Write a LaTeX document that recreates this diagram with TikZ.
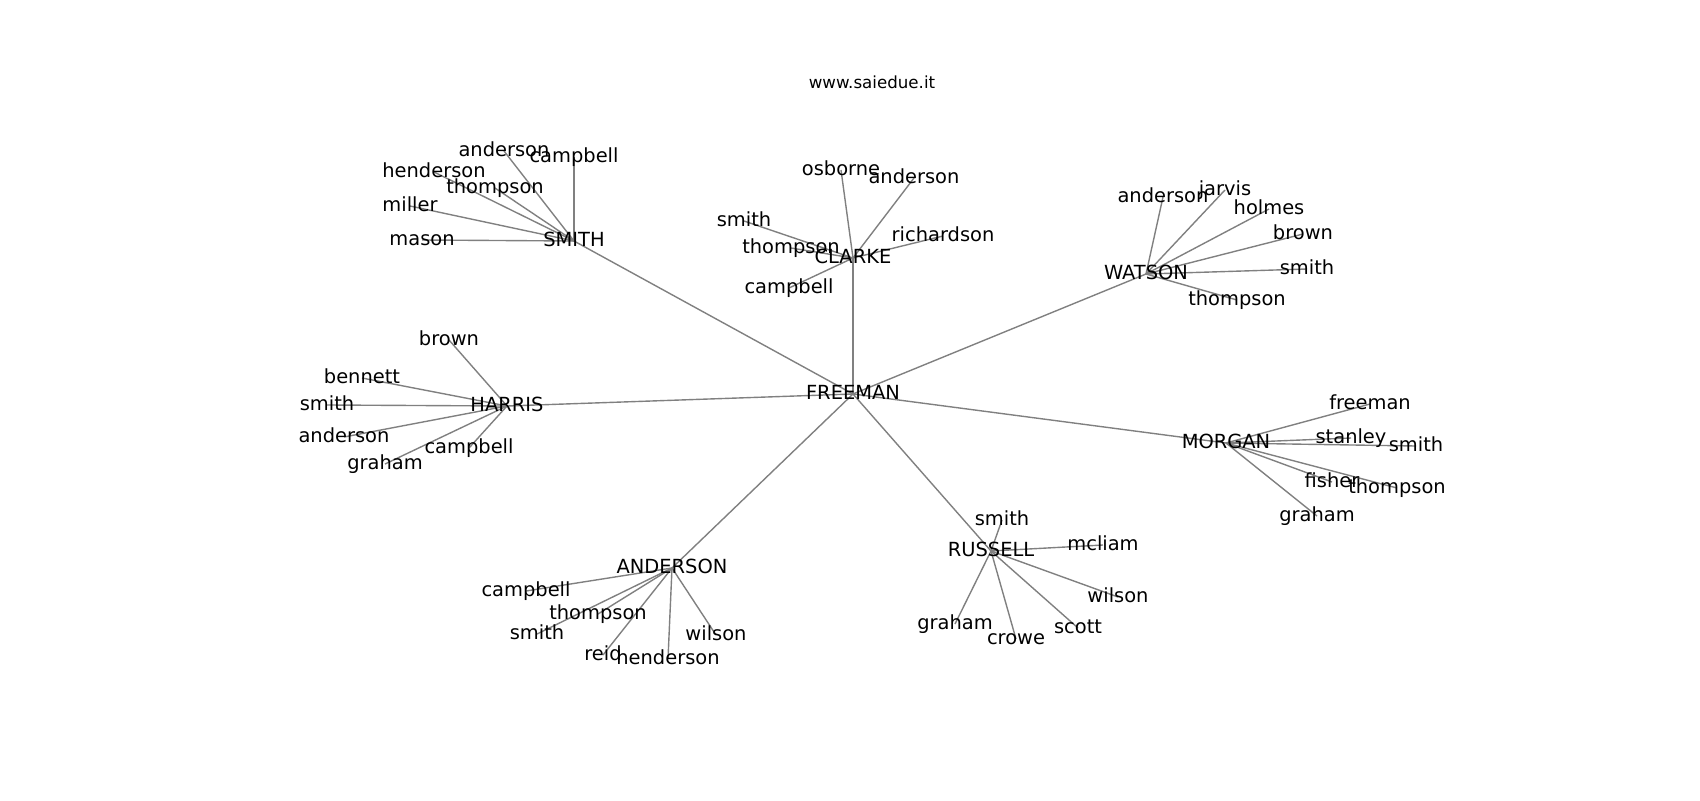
\documentclass[tikz,border=0pt]{standalone}
\usepackage{fontspec}
\setmainfont{DejaVu Sans}
\usetikzlibrary{backgrounds}
\begin{document}
\begin{tikzpicture}[x=0.72pt,y=-0.72pt,
  lbl/.style={inner sep=0pt, font=\fontsize{14}{16}\selectfont, text height=10.64pt, text depth=3.36pt, anchor=center},
  ttl/.style={inner sep=0pt, font=\fontsize{12}{14}\selectfont, text height=9.12pt, text depth=2.88pt, anchor=center},
  edge/.style={draw={rgb,255:red,128;green,128;blue,128}, line width=1pt}]
\begin{pgfonlayer}{background}
\fill[white] (0,0) rectangle (1700,800);
\end{pgfonlayer}
\useasboundingbox (0,0) rectangle (1700,800);

\begin{scope}[shift={(1,2)}]
\node[ttl] (title) at (871,82) {www.saiedue.it};

% hubs
\node[lbl] (freeman) at (852,392) {FREEMAN};
\node[lbl] (smith) at (573,239) {SMITH};
\node[lbl] (clarke) at (852,256) {CLARKE};
\node[lbl] (watson) at (1145,272) {WATSON};
\node[lbl] (harris) at (506,404) {HARRIS};
\node[lbl] (morgan) at (1225,441) {MORGAN};
\node[lbl] (anderson) at (671,566) {ANDERSON};
\node[lbl] (russell) at (990,549) {RUSSELL};

% SMITH leaves
\foreach \id/\txt/\x/\y in {a/anderson/503/149, b/campbell/573/155, c/henderson/433/170, d/thompson/494/186, e/miller/409/204, f/mason/421/238}
  \node[lbl] (s-\id) at (\x,\y) {\txt};
% CLARKE leaves
\foreach \id/\txt/\x/\y in {a/osborne/840/168, b/anderson/913/176, c/smith/743/219, d/thompson/790/246, e/richardson/942/234, f/campbell/788/286}
  \node[lbl] (c-\id) at (\x,\y) {\txt};
% WATSON leaves
\foreach \id/\txt/\x/\y in {a/anderson/1162/195, b/jarvis/1224/188, c/holmes/1268/207, d/brown/1302/232, e/smith/1306/267, f/thompson/1236/298}
  \node[lbl] (w-\id) at (\x,\y) {\txt};
% HARRIS leaves
\foreach \id/\txt/\x/\y in {a/brown/448/338, b/bennett/361/376, c/smith/326/403, d/anderson/343/435, e/campbell/468/446, f/graham/384/462}
  \node[lbl] (h-\id) at (\x,\y) {\txt};
% MORGAN leaves
\foreach \id/\txt/\x/\y in {a/freeman/1369/402, b/stanley/1350/436, c/smith/1415/444, d/fisher/1331/480, e/thompson/1396/486, f/graham/1316/514}
  \node[lbl] (m-\id) at (\x,\y) {\txt};
% ANDERSON leaves
\foreach \id/\txt/\x/\y in {a/campbell/525/589, b/thompson/597/612, c/smith/536/632, d/reid/602/653, e/henderson/667/657, f/wilson/715/633}
  \node[lbl] (a-\id) at (\x,\y) {\txt};
% RUSSELL leaves
\foreach \id/\txt/\x/\y in {a/smith/1001/518, b/mcliam/1102/543, c/wilson/1117/595, d/scott/1077/626, e/graham/954/622, f/crowe/1015/637}
  \node[lbl] (r-\id) at (\x,\y) {\txt};
\end{scope}

\begin{pgfonlayer}{background}
\foreach \h in {smith,clarke,watson,harris,morgan,anderson,russell}
  \draw[edge] (freeman.center) -- (\h.center);
\foreach \id in {a,b,c,d,e,f} {
  \draw[edge] (smith.center) -- (s-\id.center);
  \draw[edge] (clarke.center) -- (c-\id.center);
  \draw[edge] (watson.center) -- (w-\id.center);
  \draw[edge] (harris.center) -- (h-\id.center);
  \draw[edge] (morgan.center) -- (m-\id.center);
  \draw[edge] (anderson.center) -- (a-\id.center);
  \draw[edge] (russell.center) -- (r-\id.center);
}
\end{pgfonlayer}
\end{tikzpicture}
\end{document}
